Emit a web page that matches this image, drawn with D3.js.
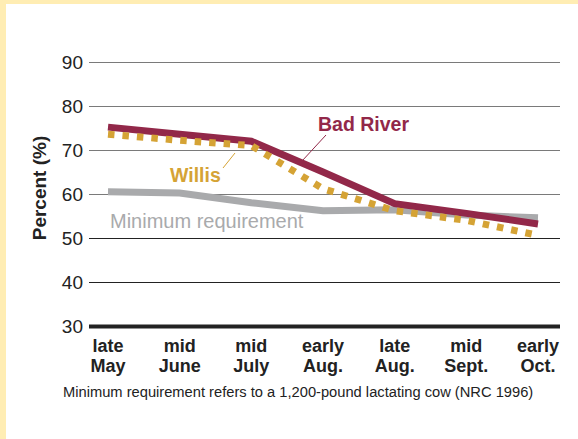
<!DOCTYPE html>
<html>
<head>
<meta charset="utf-8">
<script src="https://cdn.jsdelivr.net/npm/d3@7"></script>
<style>
  body { margin: 0; background: #fff; }
  svg text { font-family: "Liberation Sans", Arial, Helvetica, sans-serif; }
</style>
</head>
<body>
<svg id="chart" width="578" height="439"></svg>
<script>
// periods along the x axis (two-line labels)
const periods = ["late May", "mid June", "mid July", "early Aug.", "late Aug.", "mid Sept.", "early Oct."];
const periodLines = [["late", "May"], ["mid", "June"], ["mid", "July"], ["early", "Aug."], ["late", "Aug."], ["mid", "Sept."], ["early", "Oct."]];

// percent values
const badRiver = [75.2, 73.6, 72.0, 65.0, 57.8, 55.6, 53.2];
const willis   = [73.6, 72.2, 71.0, 61.2, 56.2, 54.0, 50.6];
const minimum  = [60.5, 60.2, 58.0, 56.2, 56.4, 55.2, 54.6];

const yTicks = [30, 40, 50, 60, 70, 80, 90];

const svg = d3.select("#chart");

// cream frame on top and left
svg.append("rect").attr("x", 0).attr("y", 0).attr("width", 578).attr("height", 4).attr("fill", "#ffedb3");
svg.append("rect").attr("x", 0).attr("y", 0).attr("width", 6).attr("height", 439).attr("fill", "#ffedb3");

let x = d3.scalePoint().domain(periods).range([108, 538]);
let y = d3.scaleLinear().domain([30, 90]).range([326, 62]);

const gridLeft = 89, gridRight = 560;

// y axis with gridlines
let yAxis = d3.axisLeft(y).tickValues(yTicks).tickSize(-(gridRight - gridLeft)).tickPadding(6);
let gy = svg.append("g").attr("transform", `translate(${gridLeft},0)`).call(yAxis);
gy.select(".domain").remove();
gy.selectAll(".tick line")
  .attr("stroke", d => d >= 60 ? "#7a7a7a" : "#222")
  .attr("stroke-width", d => d === 30 ? 4 : 1);
gy.selectAll(".tick text")
  .attr("fill", "#222")
  .style("font-size", "19px")
  .attr("x", -6);

// axis title
svg.append("text")
  .attr("transform", "translate(46,188) rotate(-90)")
  .attr("text-anchor", "middle")
  .style("font-size", "19px")
  .style("font-weight", "bold")
  .attr("fill", "#222")
  .text("Percent (%)");

// x labels
let xl = svg.append("g").selectAll("text").data(periods).join("text")
  .attr("text-anchor", "middle")
  .attr("x", d => x(d))
  .attr("y", 352)
  .style("font-size", "18px")
  .style("font-weight", "bold")
  .attr("fill", "#222");
xl.selectAll("tspan").data((d, i) => periodLines[i]).join("tspan")
  .attr("x", function() { return this.parentNode.getAttribute("x"); })
  .attr("dy", (d, i) => i === 0 ? 0 : 20)
  .text(d => d);

let line = d3.line().x((d, i) => x(periods[i])).y(d => y(d));

// minimum requirement
svg.append("path").datum(minimum)
  .attr("d", line)
  .attr("fill", "none")
  .attr("stroke", "#a9aaac")
  .attr("stroke-width", 7);

// Bad River
svg.append("path").datum(badRiver)
  .attr("d", line)
  .attr("fill", "none")
  .attr("stroke", "#922849")
  .attr("stroke-width", 7);

// Willis, dotted
svg.append("path").datum(willis)
  .attr("d", line)
  .attr("fill", "none")
  .attr("stroke", "#d5a335")
  .attr("stroke-width", 7)
  .attr("stroke-dasharray", "6.5 8");

// labels + leaders
svg.append("line").attr("x1", 326).attr("y1", 135).attr("x2", 302).attr("y2", 161)
  .attr("stroke", "#922849").attr("stroke-width", 1);
svg.append("text").attr("x", 318).attr("y", 131)
  .style("font-size", "19.5px").style("font-weight", "bold")
  .attr("fill", "#922849").text("Bad River");

svg.append("line").attr("x1", 235).attr("y1", 153).attr("x2", 223).attr("y2", 168)
  .attr("stroke", "#d5a335").attr("stroke-width", 1);
svg.append("text").attr("x", 170).attr("y", 182)
  .style("font-size", "19.5px").style("font-weight", "bold")
  .attr("fill", "#d5a335").text("Willis");

svg.append("text").attr("x", 110).attr("y", 228)
  .style("font-size", "20px")
  .attr("fill", "#a9aaac").text("Minimum requirement");

// footnote
svg.append("text").attr("x", 63).attr("y", 397)
  .style("font-size", "14.7px")
  .attr("fill", "#222")
  .text("Minimum requirement refers to a 1,200-pound lactating cow (NRC 1996)");
</script>
</body>
</html>
